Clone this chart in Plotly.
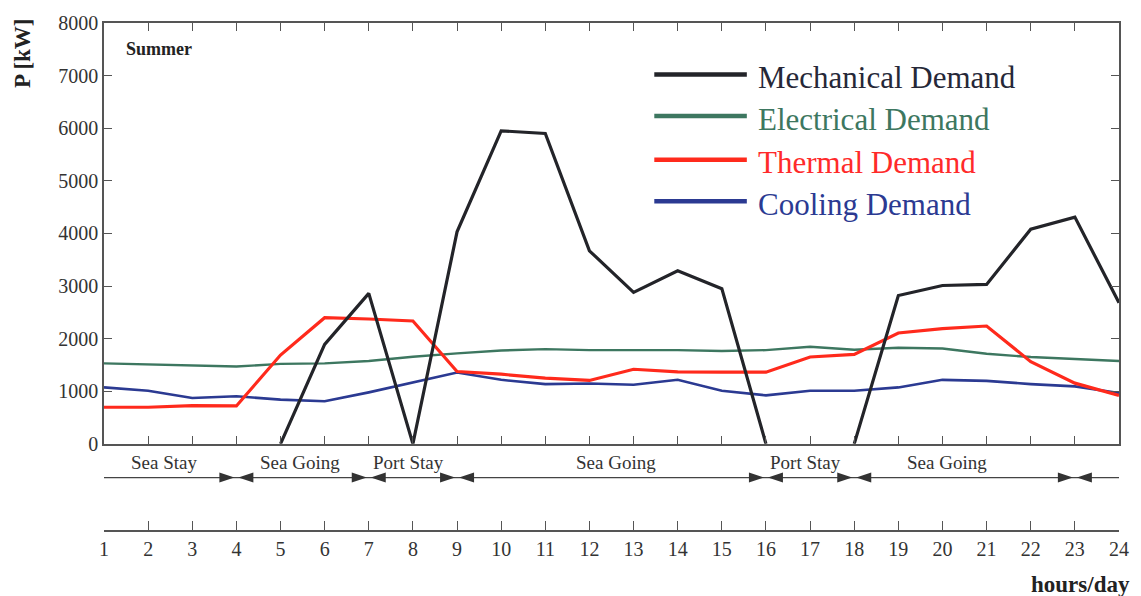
import plotly.graph_objects as go

# ---------------- data ----------------
hours = list(range(1, 25))
mechanical = [None, None, None, None, 0, 1890, 2860, 0, 4030, 5950, 5900, 3670,
              2880, 3290, 2950, 0, None, 0, 2820, 3010, 3030, 4080, 4310, 2680]
electrical = [1530, 1510, 1480, 1470, 1520, 1530, 1575, 1655, 1720, 1775, 1800, 1782,
              1782, 1782, 1765, 1782, 1845, 1790, 1826, 1813, 1713, 1650, 1613, 1575]
thermal = [696, 696, 727, 721, 1688, 2398, 2373, 2335, 1375, 1324, 1249, 1205,
           1418, 1368, 1362, 1362, 1651, 1700, 2108, 2189, 2240, 1562, 1154, 922]
cooling = [1073, 1010, 872, 904, 841, 809, 979, 1167, 1355, 1217, 1136, 1148,
           1123, 1217, 1010, 922, 1010, 1010, 1073, 1217, 1198, 1136, 1092, 966]

series_names = ["Mechanical Demand", "Electrical Demand", "Thermal Demand", "Cooling Demand"]
series_values = [mechanical, electrical, thermal, cooling]
series_colors = ["#232429", "#3d7760", "#ff2a1c", "#2b3a92"]
legend_text_colors = ["#262838", "#3d7760", "#ff2a2a", "#2b3a92"]
series_widths = [3.2, 2.4, 3.2, 2.6]
draw_order = [1, 3, 2, 0]

phase_names = ["Sea Stay", "Sea Going", "Port Stay", "Sea Going", "Port Stay", "Sea Going", ""]
phase_start = [1, 4, 7, 9, 16, 18, 23]
phase_end = [4, 7, 9, 16, 18, 23, 24]
phase_label_x = [2.35, 5.45, 7.9, 12.6, 16.9, 20.1, None]

y_ticks = list(range(0, 8001, 1000))

# ---------------- layout constants ----------------
W, H = 1141, 596
ML, MR, MT, MB = 104, 17, 18, 65
PH = H - MT - MB
PW = W - ML - MR
main_bottom_px = 443


def py(px):
    return (H - MB - px) / PH


def pxx(px):
    return (px - ML) / PW


SERIF = "Liberation Serif"
AX = "#555555"
TXT = "#333333"

fig = go.Figure()
for i in draw_order:
    fig.add_trace(go.Scatter(
        x=hours, y=series_values[i], mode="lines", name=series_names[i],
        line=dict(color=series_colors[i], width=series_widths[i]),
        showlegend=False, connectgaps=False))

# invisible trace to bind the lower hour axis
fig.add_trace(go.Scatter(x=hours, y=[None] * len(hours), xaxis="x2", yaxis="y",
                         mode="lines", showlegend=False, hoverinfo="skip"))

shapes = []
annotations = []

# phase arrow line
arrow_y = py(477)
shapes.append(dict(type="line", xref="x", yref="paper", x0=hours[0], x1=hours[-1],
                   y0=arrow_y, y1=arrow_y, line=dict(color="#444444", width=1.2)))
for name, s, e, lx in zip(phase_names, phase_start, phase_end, phase_label_x):
    if e < hours[-1]:
        shapes.append(dict(type="path", xref="x", yref="paper", xsizemode="pixel",
                           ysizemode="pixel", xanchor=e, yanchor=arrow_y,
                           path="M-2,0 L-17,5 L-17,-5 Z",
                           fillcolor="#333333", line=dict(width=0)))
    if s > hours[0]:
        shapes.append(dict(type="path", xref="x", yref="paper", xsizemode="pixel",
                           ysizemode="pixel", xanchor=s, yanchor=arrow_y,
                           path="M2,0 L17,5 L17,-5 Z",
                           fillcolor="#333333", line=dict(width=0)))
    if name:
        annotations.append(dict(x=lx, y=py(462), xref="x", yref="paper", text=name,
                                showarrow=False, xanchor="center", yanchor="middle",
                                font=dict(family=SERIF, size=19, color=TXT)))

# manual legend
leg_y_px = [70, 112, 156, 198]
for name, col, tcol, ypx in zip(series_names, series_colors, legend_text_colors, leg_y_px):
    shapes.append(dict(type="line", xref="paper", yref="paper", x0=pxx(657), x1=pxx(750),
                       y0=py(ypx), y1=py(ypx), line=dict(color=col, width=4.5)))
    annotations.append(dict(x=pxx(759), y=py(ypx + 3), xref="paper", yref="paper",
                            text=name, showarrow=False, xanchor="left", yanchor="middle",
                            font=dict(family=SERIF, size=31, color=tcol)))

annotations += [
    dict(x=pxx(22), y=py(48), xref="paper", yref="paper", text="<b>P [kW]</b>",
         textangle=-90, showarrow=False, xanchor="center", yanchor="middle",
         font=dict(family=SERIF, size=23, color="#222222")),
    dict(x=pxx(124), y=py(44), xref="paper", yref="paper", text="<b>Summer</b>",
         showarrow=False, xanchor="left", yanchor="middle",
         font=dict(family=SERIF, size=18, color="#222222")),
    dict(x=pxx(1137), y=py(585), xref="paper", yref="paper", text="<b>hours/day</b>",
         showarrow=False, xanchor="right", yanchor="middle",
         font=dict(family=SERIF, size=23, color="#222222")),
]

fig.update_layout(
    width=W, height=H,
    margin=dict(l=ML, r=MR, t=MT, b=MB, pad=0),
    paper_bgcolor="white", plot_bgcolor="white",
    showlegend=False,
    xaxis=dict(range=[hours[0], hours[-1]], tickvals=hours, showticklabels=False,
               ticks="inside", ticklen=8, tickcolor=AX, tickwidth=1.3,
               showline=True, linecolor=AX, linewidth=1.5, mirror="ticks",
               showgrid=False, zeroline=False, anchor="y"),
    xaxis2=dict(range=[hours[0], hours[-1]], tickvals=hours, ticktext=[str(h) for h in hours],
                overlaying="x", anchor="free", position=0, side="bottom",
                ticks="inside", ticklen=9, tickcolor=AX, tickwidth=1.3,
                showline=True, linecolor=AX, linewidth=1.5,
                showgrid=False, zeroline=False,
                tickfont=dict(family=SERIF, size=20, color=TXT)),
    yaxis=dict(domain=[py(main_bottom_px), 1], range=[0, 8000], tickvals=y_ticks,
               ticks="inside", ticklen=8, tickcolor=AX, tickwidth=1.3,
               showline=True, linecolor=AX, linewidth=1.5, mirror="ticks",
               showgrid=False, zeroline=False,
               tickfont=dict(family=SERIF, size=20, color=TXT)),
    shapes=shapes,
    annotations=annotations,
)

fig.write_html("out.html")
